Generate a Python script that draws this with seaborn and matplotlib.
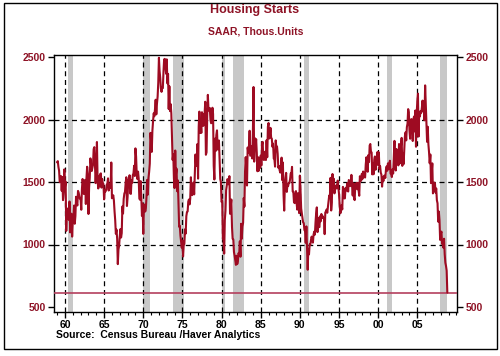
import numpy as np
import pandas as pd
import matplotlib
matplotlib.use("Agg")
import matplotlib.pyplot as plt
import seaborn as sns
from matplotlib.patches import Rectangle
from matplotlib.ticker import FixedLocator

# ---------------- data (monthly, SAAR, thous. units) ----------------
start_year = 1959

starts_1959_1968 = [
    1657, 1667, 1620, 1590, 1498, 1503, 1547, 1430, 1540, 1355, 1416, 1601,  # 1959
    1460, 1503, 1109, 1289, 1271, 1247, 1197, 1344, 1097, 1246, 1246, 1063,  # 1960
    1183, 1226, 1312, 1166, 1228, 1382, 1335, 1312, 1429, 1415, 1385, 1365,  # 1961
    1361, 1278, 1443, 1524, 1483, 1404, 1450, 1517, 1324, 1533, 1622, 1564,  # 1962
    1244, 1456, 1534, 1689, 1641, 1588, 1614, 1639, 1763, 1779, 1622, 1491,  # 1963
    1603, 1820, 1517, 1448, 1467, 1550, 1562, 1569, 1455, 1524, 1486, 1484,  # 1964
    1361, 1433, 1423, 1438, 1478, 1488, 1529, 1432, 1482, 1452, 1460, 1656,  # 1965
    1370, 1378, 1394, 1352, 1265, 1194, 1086, 1119, 1046, 843, 961, 990,     # 1966
    1067, 1123, 1056, 1091, 1304, 1248, 1364, 1407, 1421, 1491, 1538, 1308,  # 1967
    1380, 1520, 1466, 1554, 1408, 1405, 1512, 1495, 1556, 1569, 1630, 1548,  # 1968
]
starts_1969_1978 = [
    1769, 1705, 1561, 1524, 1583, 1528, 1368, 1358, 1507, 1381, 1229, 1327,  # 1969
    1085, 1305, 1319, 1264, 1290, 1385, 1517, 1399, 1534, 1580, 1647, 1893,  # 1970
    1828, 1741, 1910, 1986, 2049, 2026, 2083, 2158, 2041, 2128, 2182, 2295,  # 1971
    2494, 2390, 2334, 2249, 2221, 2254, 2252, 2382, 2481, 2485, 2421, 2366,  # 1972
    2481, 2289, 2365, 2084, 2266, 2067, 2123, 2051, 1874, 1677, 1724, 1526,  # 1973
    1451, 1752, 1555, 1607, 1426, 1513, 1316, 1142, 1150, 1070, 1026, 975,   # 1974
    1032, 904, 993, 1005, 1121, 1087, 1226, 1260, 1264, 1344, 1360, 1321,    # 1975
    1367, 1538, 1421, 1395, 1459, 1495, 1401, 1550, 1720, 1629, 1641, 1804,  # 1976
    1527, 1943, 2063, 1892, 1971, 1893, 2058, 2020, 1949, 2042, 2042, 2142,  # 1977
    1718, 1738, 2032, 2197, 2075, 2070, 2092, 1996, 1970, 1981, 2094, 2044,  # 1978
]
starts_1979_1988 = [
    1630, 1520, 1847, 1748, 1876, 1913, 1760, 1778, 1832, 1681, 1524, 1498,  # 1979
    1341, 1350, 1047, 1051, 927, 1196, 1269, 1436, 1471, 1523, 1510, 1482,   # 1980
    1547, 1246, 1306, 1360, 1140, 1045, 1041, 940, 911, 873, 837, 910,       # 1981
    843, 866, 931, 917, 1025, 902, 1166, 1046, 1144, 1173, 1372, 1303,       # 1982
    1586, 1699, 1606, 1472, 1776, 1733, 1785, 1910, 1710, 1715, 1785, 1688,  # 1983
    1897, 2260, 1663, 1851, 1774, 1843, 1732, 1586, 1698, 1590, 1689, 1612,  # 1984
    1711, 1632, 1800, 1821, 1680, 1676, 1684, 1743, 1676, 1834, 1698, 1942,  # 1985
    1972, 1848, 1876, 1933, 1854, 1847, 1782, 1807, 1687, 1681, 1623, 1833,  # 1986
    1774, 1784, 1726, 1614, 1628, 1594, 1575, 1605, 1695, 1515, 1656, 1400,  # 1987
    1271, 1473, 1532, 1573, 1421, 1478, 1467, 1493, 1492, 1522, 1569, 1563,  # 1988
]
starts_1989_1998 = [
    1621, 1425, 1422, 1339, 1331, 1397, 1427, 1332, 1279, 1410, 1351, 1251,  # 1989
    1551, 1437, 1289, 1248, 1212, 1177, 1171, 1115, 1110, 1014, 1145, 969,   # 1990
    798, 965, 921, 1001, 996, 1036, 1063, 1049, 1015, 1079, 1103, 1079,      # 1991
    1176, 1250, 1297, 1099, 1214, 1145, 1139, 1226, 1186, 1244, 1214, 1227,  # 1992
    1210, 1210, 1083, 1258, 1260, 1280, 1254, 1300, 1343, 1392, 1376, 1533,  # 1993
    1272, 1337, 1564, 1465, 1526, 1409, 1439, 1450, 1474, 1450, 1511, 1455,  # 1994
    1407, 1316, 1249, 1267, 1314, 1281, 1461, 1416, 1369, 1369, 1452, 1431,  # 1995
    1467, 1491, 1424, 1516, 1504, 1467, 1472, 1557, 1475, 1392, 1489, 1370,  # 1996
    1355, 1486, 1457, 1492, 1442, 1494, 1437, 1390, 1546, 1520, 1510, 1566,  # 1997
    1525, 1584, 1567, 1540, 1536, 1641, 1698, 1614, 1582, 1715, 1660, 1792,  # 1998
]
starts_1999_2008 = [
    1804, 1738, 1737, 1561, 1649, 1562, 1677, 1704, 1598, 1636, 1663, 1740,  # 1999
    1636, 1737, 1604, 1626, 1575, 1559, 1463, 1541, 1507, 1549, 1551, 1532,  # 2000
    1600, 1625, 1590, 1649, 1605, 1636, 1670, 1567, 1562, 1540, 1602, 1568,  # 2001
    1698, 1829, 1642, 1592, 1764, 1717, 1655, 1633, 1804, 1648, 1753, 1788,  # 2002
    1853, 1629, 1726, 1643, 1751, 1867, 1897, 1833, 1939, 1967, 2083, 2057,  # 2003
    1911, 1846, 1998, 2003, 1981, 1828, 2002, 2024, 1905, 2072, 1782, 2042,  # 2004
    2144, 2207, 1864, 2061, 2025, 2068, 2054, 2095, 2151, 2065, 2147, 1994,  # 2005
    2273, 2119, 1969, 1821, 1942, 1802, 1737, 1650, 1720, 1491, 1570, 1649,  # 2006
    1409, 1480, 1495, 1490, 1415, 1448, 1354, 1330, 1183, 1264, 1197, 1037,  # 2007
    1084, 1103, 1005, 1013, 975, 1046, 923, 854, 828, 791, 615,              # 2008
]

recession_starts = [1960.33, 1969.92, 1973.83, 1980.00, 1981.50, 1990.50, 2001.17, 2007.92]
recession_ends = [1961.08, 1970.83, 1975.17, 1980.50, 1982.83, 1991.17, 2001.83, 2008.75]

x_major_ticks = [1960, 1965, 1970, 1975, 1980, 1985, 1990, 1995, 2000, 2005]
x_tick_labels = ["60", "65", "70", "75", "80", "85", "90", "95", "00", "05"]
x_minor_ticks = list(range(1959, 2011))
y_ticks = [500, 1000, 1500, 2000, 2500]
y_dashed = [1000, 1500, 2000]

title = "Housing Starts"
subtitle = "SAAR, Thous.Units"
source = "Source:  Census Bureau /Haver Analytics"

# ---------------- build frame ----------------
values = (starts_1959_1968 + starts_1969_1978 + starts_1979_1988
          + starts_1989_1998 + starts_1999_2008)
df = pd.DataFrame({
    "date": [start_year + i / 12.0 for i in range(len(values))],
    "starts": values,
})
latest_level = values[-1]

# ---------------- style ----------------
sns.set_theme(style="white")
plt.rcParams["font.family"] = ["Liberation Sans", "DejaVu Sans"]

dark_red = "#9E0B22"
label_red = "#8E1326"
level_color = "#B4405E"

fig = plt.figure(figsize=(5.0, 3.56), dpi=100)
ax = fig.add_axes([54 / 500, 1 - 312 / 356, (457 - 54) / 500, (312 - 55) / 356])

# recession shading
for s, e in zip(recession_starts, recession_ends):
    ax.axvspan(s, e, color="#C8C8C8", lw=0, zorder=1)

# dashed grid
for xv in x_major_ticks:
    ax.axvline(xv, color="black", lw=0.9, ls=(0, (4, 3)), zorder=2)
for yv in y_dashed:
    ax.axhline(yv, color="black", lw=0.9, ls=(0, (4, 3)), zorder=2)

# latest level line
ax.axhline(latest_level, color=level_color, lw=1.2, zorder=3)

sns.lineplot(data=df, x="date", y="starts", ax=ax, color=dark_red, lw=1.5, zorder=4)

ax.set_xlim(1958.6, 2010.07)
ax.set_ylim(460, 2516)
ax.set_xlabel("")
ax.set_ylabel("")

ax.xaxis.set_major_locator(FixedLocator(x_major_ticks))
ax.xaxis.set_minor_locator(FixedLocator(x_minor_ticks))
ax.set_xticklabels(x_tick_labels)
ax.yaxis.set_major_locator(FixedLocator(y_ticks))

ax.tick_params(axis="x", which="major", direction="out", length=4, width=1,
               colors="black", labelsize=7.5, pad=2, bottom=True)
ax.tick_params(axis="x", which="minor", direction="out", length=2, width=0.8,
               color="black", bottom=True)
ax.tick_params(axis="y", which="major", direction="out", length=4, width=1,
               color="black", labelcolor=label_red, labelsize=7.5, pad=2,
               left=True, right=True, labelleft=True, labelright=True)
for lab in ax.get_yticklabels():
    lab.set_fontweight("bold")
for lab in ax.get_xticklabels():
    lab.set_fontweight("bold")

for sp in ax.spines.values():
    sp.set_visible(True)
    sp.set_color("black")
    sp.set_linewidth(1.0)

# titles and source
fig.text(255 / 500, 1 - 10 / 356, title, ha="center", va="center",
         color=label_red, fontsize=9, fontweight="bold")
fig.text(256 / 500, 1 - 32 / 356, subtitle, ha="center", va="center",
         color=label_red, fontsize=7.5, fontweight="bold")
fig.text(56 / 500, 1 - 335 / 356, source, ha="left", va="center",
         color="black", fontsize=7.5, fontweight="bold")

# outer frame
fig.add_artist(Rectangle((4 / 500, 1 - 349 / 356), 493 / 500, 346 / 356,
                         transform=fig.transFigure, fill=False,
                         ec="black", lw=1.0))

fig.savefig("out.png", dpi=100)
